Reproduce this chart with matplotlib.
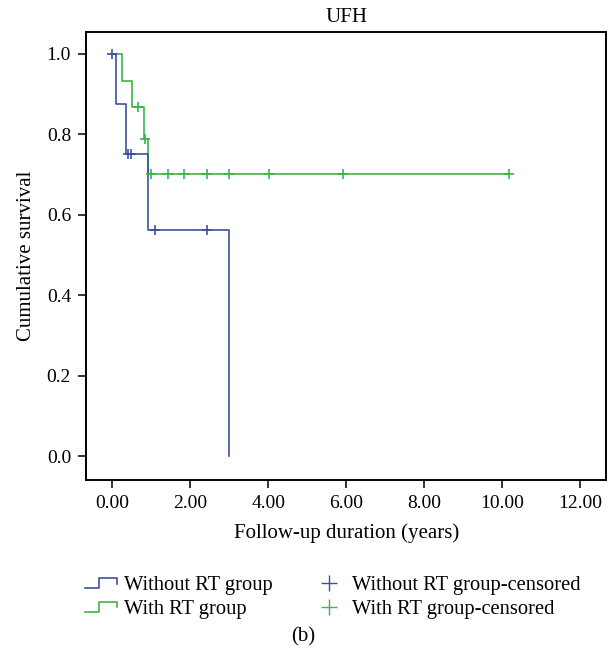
import matplotlib
matplotlib.use("Agg")
import matplotlib.pyplot as plt
from matplotlib.lines import Line2D
from matplotlib.legend_handler import HandlerBase

# ---- data ----
title = "UFH"
xlabel = "Follow-up duration (years)"
ylabel = "Cumulative survival"
panel_label = "(b)"

without_times = [0.0, 0.09, 0.34, 0.91, 2.99]
without_surv = [1.0, 0.875, 0.75, 0.5625, 0.0]
without_cens_t = [0.0, 0.41, 0.48, 1.09, 2.42]
without_cens_s = [1.0, 0.75, 0.75, 0.5625, 0.5625]

with_times = [0.0, 0.24, 0.50, 0.82, 0.92, 10.18]
with_surv = [1.0, 0.933, 0.867, 0.788, 0.70, 0.70]
with_cens_t = [0.67, 0.83, 0.99, 1.42, 1.84, 2.42, 3.0, 4.01, 5.92, 10.18]
with_cens_s = [0.867, 0.788, 0.70, 0.70, 0.70, 0.70, 0.70, 0.70, 0.70, 0.70]

xticks = [0, 2, 4, 6, 8, 10, 12]
yticks = [0.0, 0.2, 0.4, 0.6, 0.8, 1.0]

legend_labels = ["Without RT group", "With RT group",
                 "Without RT group-censored", "With RT group-censored"]

BLUE = "#3c50a2"
GREEN = "#3cb44b"

plt.rcParams["font.family"] = ["Liberation Serif", "DejaVu Serif"]
plt.rcParams["font.size"] = 14

W, H = 614, 659
fig = plt.figure(figsize=(W / 100, H / 100), dpi=100)
ax = fig.add_axes([86.3 / W, 1 - 480 / H, (606 - 86.3) / W, (480 - 32) / H])

ax.step(with_times, with_surv, where="post", color=GREEN, lw=1.2)
ax.step(without_times, without_surv, where="post", color=BLUE, lw=1.2)
ax.plot(with_cens_t, with_cens_s, "+", color=GREEN, ms=7, mew=1.2)
ax.plot(without_cens_t, without_cens_s, "+", color=BLUE, ms=7, mew=1.2)

ax.set_xlim(-0.667, 12.66)
ax.set_ylim(-0.059, 1.054)
ax.set_xticks(xticks)
ax.set_xticklabels([f"{v:.2f}" for v in xticks])
ax.set_yticks(yticks)
ax.set_yticklabels([f"{v:.1f}" for v in yticks])
ax.tick_params(direction="out", length=6, width=1.1, pad=5, labelsize=14)
for sp in ax.spines.values():
    sp.set_linewidth(1.4)

ax.set_title(title, fontsize=15, pad=7)
ax.set_xlabel(xlabel, fontsize=15, labelpad=8)
ax.set_ylabel(ylabel, fontsize=15, labelpad=8)


class StepHandler(HandlerBase):
    def create_artists(self, legend, orig_handle, xdescent, ydescent,
                       width, height, fontsize, trans):
        x0 = -xdescent
        y0 = -ydescent
        xs = [x0, x0 + 0.45 * width, x0 + 0.45 * width, x0 + width, x0 + width]
        ys = [y0 + 0.15 * height, y0 + 0.15 * height, y0 + 0.85 * height,
              y0 + 0.85 * height, y0 + 0.45 * height]
        ln = Line2D(xs, ys, color=orig_handle.get_color(), lw=1.2)
        ln.set_transform(trans)
        return [ln]


h1 = Line2D([], [], color=BLUE)
h2 = Line2D([], [], color=GREEN)
h3 = Line2D([], [], color=BLUE, marker="+", ls="none", ms=12, mew=1.0)
h4 = Line2D([], [], color=GREEN, marker="+", ls="none", ms=12, mew=1.0)

fs_leg = 14.8
px = fs_leg * 100 / 72
fig.legend([h1, h2, h3, h4], legend_labels, ncol=2, frameon=False,
           loc="upper left", bbox_to_anchor=(85 / W, 1 - 576 / H),
           borderpad=0, borderaxespad=0, handlelength=32 / px,
           handletextpad=6.5 / px, columnspacing=41 / px,
           labelspacing=0.2, fontsize=fs_leg,
           handler_map={h1: StepHandler(), h2: StepHandler()})

fig.text(303 / W, 1 - 637 / H, panel_label, ha="center", va="center", fontsize=15)

fig.savefig("out.png", dpi=100)
